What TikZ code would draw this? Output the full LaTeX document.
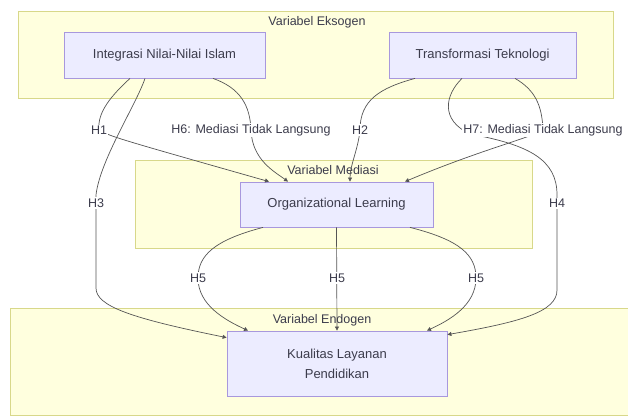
\documentclass[tikz,border=0pt]{standalone}
\usepackage{fontspec}
\setmainfont{Liberation Sans}
\usetikzlibrary{arrows.meta}
\definecolor{clfill}{HTML}{FFFFDE}
\definecolor{clstroke}{HTML}{D8D88A}
\definecolor{ndfill}{HTML}{ECECFF}
\definecolor{ndstroke}{HTML}{A898DD}
\definecolor{txt}{HTML}{3C3C4C}
\definecolor{edgec}{HTML}{555555}
\tikzset{
  cluster/.style={draw=clstroke, fill=clfill, line width=0.8pt},
  clabel/.style={text=txt, font=\fontsize{12.5}{15}\selectfont, inner sep=0pt},
  box/.style={draw=ndstroke, fill=ndfill, line width=0.8pt, text=txt,
    font=\fontsize{13}{20}\selectfont, align=center, inner sep=0pt},
  edge/.style={draw=edgec, line width=0.7pt, -{Triangle[length=4pt,width=4pt]}},
  elabel/.style={text=txt, fill=white, inner sep=1.2pt, font=\fontsize{12.5}{15}\selectfont}
}
\begin{document}
\begin{tikzpicture}[x=1pt,y=-1pt]
\useasboundingbox (0,0) rectangle (628,417);
% clusters
\path[cluster] (18,11) rectangle (613,98);
\path[cluster] (135,160) rectangle (532,248);
\path[cluster] (10,308) rectangle (640,415);
\node[clabel] (lek) at (317,22) {Variabel Eksogen};
\node[clabel] (lme) at (333,170) {Variabel Mediasi};
\node[clabel] (len) at (322,320) {Variabel Endogen};
% nodes
\node[box, minimum width=201pt, minimum height=46pt] (int) at (164.5,55) {Integrasi Nilai-Nilai Islam};
\node[box, minimum width=187pt, minimum height=46pt] (tra) at (482.5,55) {Transformasi Teknologi};
\node[box, minimum width=193pt, minimum height=45pt] (ol) at (336.5,204.5) {Organizational Learning};
\node[box, minimum width=220pt, minimum height=65pt] (kl) at (337,363.5) {Kualitas Layanan\\Pendidikan};
% label anchor points
\coordinate (c1) at (99,130);
\coordinate (c6) at (251,130);
\coordinate (c2) at (360,130);
\coordinate (c7) at (543,130);
\coordinate (c3) at (96,203);
\coordinate (c4) at (557,203);
\coordinate (c5a) at (198,278);
\coordinate (c5b) at (337,278);
\coordinate (c5c) at (476,278);
% edges
\draw[edge] ([xshift=-34.5]int.south) .. controls (112,95) and (97,112) .. (c1)
  .. controls (112,137) .. ([xshift=-67.5]ol.north);
\draw[edge] ([xshift=-19.5]int.south) .. controls (136,105) and (100,160) .. (96,195)
  -- (96,288) .. controls (96,306) and (130,318) .. ([yshift=-7]kl.north west);
\draw[edge] ([xshift=48.5]int.south) .. controls (240,88) and (250,105) .. (c6)
  .. controls (252,160) and (275,172) .. ([xshift=-48.5]ol.north);
\draw[edge] ([xshift=-67.5]tra.south) .. controls (380,88) and (360,100) .. (c2)
  .. controls (358,150) and (350,165) .. ([xshift=13.5]ol.north);
\draw[edge] ([xshift=32.5]tra.south) .. controls (535,90) and (542,105) .. (c7)
  .. controls (530,138) and (480,150) .. ([xshift=68.5]ol.north);
\draw[edge] ([xshift=-20.5]tra.south) .. controls (445,95) and (440,120) .. (470,134)
  .. controls (530,145) and (557,160) .. (557,195) -- (557,290)
  .. controls (557,312) and (520,322) .. ([yshift=-4]kl.north east);
\draw[edge] ([xshift=-73.5]ol.south) .. controls (215,240) and (198,255) .. (c5a)
  .. controls (198,305) and (225,320) .. ([xshift=-89]kl.north);
\draw[edge] (ol.south) -- (kl.north);
\draw[edge] ([xshift=73.5]ol.south) .. controls (460,240) and (476,255) .. (c5c)
  .. controls (476,305) and (450,320) .. ([xshift=90]kl.north);
% edge labels
\node[elabel] (h1) at (c1) {H1};
\node[elabel] (h6) at (c6) {H6: Mediasi Tidak Langsung};
\node[elabel] (h2) at (c2) {H2};
\node[elabel] (h7) at (c7) {H7: Mediasi Tidak Langsung};
\node[elabel] (h3) at (c3) {H3};
\node[elabel] (h4) at (c4) {H4};
\node[elabel] (h5a) at (c5a) {H5};
\node[elabel] (h5b) at (c5b) {H5};
\node[elabel] (h5c) at (c5c) {H5};
\end{tikzpicture}
\end{document}
